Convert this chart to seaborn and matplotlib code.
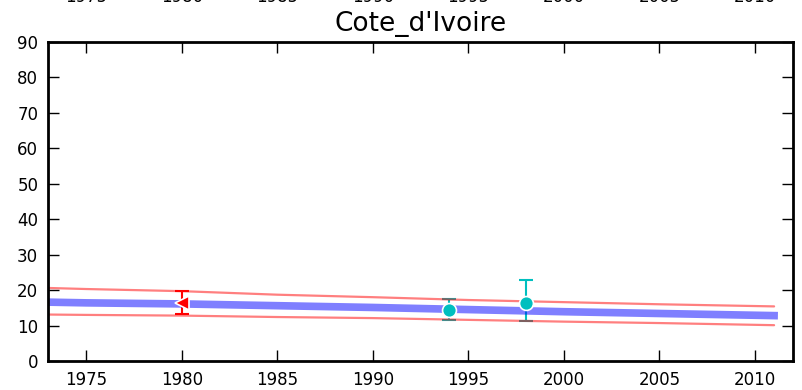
import numpy as np
import pandas as pd
import matplotlib
matplotlib.use("Agg")
import matplotlib.pyplot as plt
import matplotlib.transforms as mtransforms
import seaborn as sns

# Données
annees = [1973, 1975, 1980, 1985, 1990, 1995, 2000, 2005, 2010, 2011]
tendance = [16.6, 16.4, 16.1, 15.6, 15.1, 14.5, 13.9, 13.4, 12.9, 12.8]
borne_haute = [20.6, 20.3, 19.7, 18.7, 18.0, 17.2, 16.6, 16.0, 15.5, 15.4]
borne_basse = [13.1, 13.0, 12.8, 12.4, 12.1, 11.6, 11.1, 10.7, 10.2, 10.1]

# Points observés
obs1_annee = [1980]
obs1_val = [16.4]
obs1_bas = [13.3]
obs1_haut = [19.8]

obs2_annee = [1994, 1998]
obs2_val = [14.4, 16.4]
obs2_bas = [11.6, 11.3]
obs2_haut = [17.5, 22.9]

ticks_x = [1975, 1980, 1985, 1990, 1995, 2000, 2005, 2010]

cyan = '#00bfbf'

sns.set_theme(style="ticks")
plt.rcParams['font.family'] = ['DejaVu Sans']
plt.rcParams['text.color'] = 'black'

df = pd.DataFrame({'Annee': annees, 'Tendance': tendance,
                   'Haute': borne_haute, 'Basse': borne_basse})

fig = plt.figure(figsize=(8.03, 3.9), dpi=100)
ax = fig.add_axes([0.0598, 0.0744, 0.928, 0.818])

# barres d'erreur (derrière la courbe)
e1 = np.array([np.array(obs1_val) - np.array(obs1_bas), np.array(obs1_haut) - np.array(obs1_val)])
ax.errorbar(obs1_annee, obs1_val, yerr=e1, fmt='none', ecolor='red',
            elinewidth=1.5, capsize=5, capthick=1.5, zorder=1)
e2 = np.array([np.array(obs2_val) - np.array(obs2_bas), np.array(obs2_haut) - np.array(obs2_val)])
ax.errorbar(obs2_annee, obs2_val, yerr=e2, fmt='none', ecolor=cyan,
            elinewidth=1.5, capsize=5, capthick=1.5, zorder=1)

sns.lineplot(data=df, x='Annee', y='Tendance', color='blue', alpha=0.5,
             linewidth=5.5, solid_capstyle='projecting', ax=ax, zorder=2)
sns.lineplot(data=df, x='Annee', y='Haute', color='red', alpha=0.5,
             linewidth=1.6, ax=ax, zorder=2)
sns.lineplot(data=df, x='Annee', y='Basse', color='red', alpha=0.5,
             linewidth=1.6, ax=ax, zorder=2)

# marqueurs
ax.plot(obs1_annee, obs1_val, marker='<', color='red', markersize=10,
        markeredgecolor='white', markeredgewidth=1.2, linestyle='none', zorder=3)
ax.plot(obs2_annee, obs2_val, marker='o', color=cyan, markersize=10,
        markeredgecolor='white', markeredgewidth=1.2, linestyle='none', zorder=3)

ax.set_xlim(1973, 2012)
ax.set_ylim(0, 90)
ax.set_xticks(ticks_x)
ax.set_yticks(range(0, 91, 10))
ax.set_xlabel('')
ax.set_ylabel('')
ax.set_title("Cote_d'Ivoire", fontsize=19, pad=8, color='black')

for s in ax.spines.values():
    s.set_linewidth(2)
    s.set_color('black')
ax.tick_params(direction='in', length=8, width=1, top=True, right=True,
               labelsize=12, colors='black', pad=7)

# étiquettes coupées du graphique du dessus
trans = mtransforms.blended_transform_factory(ax.transData, fig.transFigure)
for t in ticks_x:
    fig.text(t, 0.985, str(t), transform=trans, ha='center', va='bottom', fontsize=12)

fig.savefig('out.png', dpi=100)
